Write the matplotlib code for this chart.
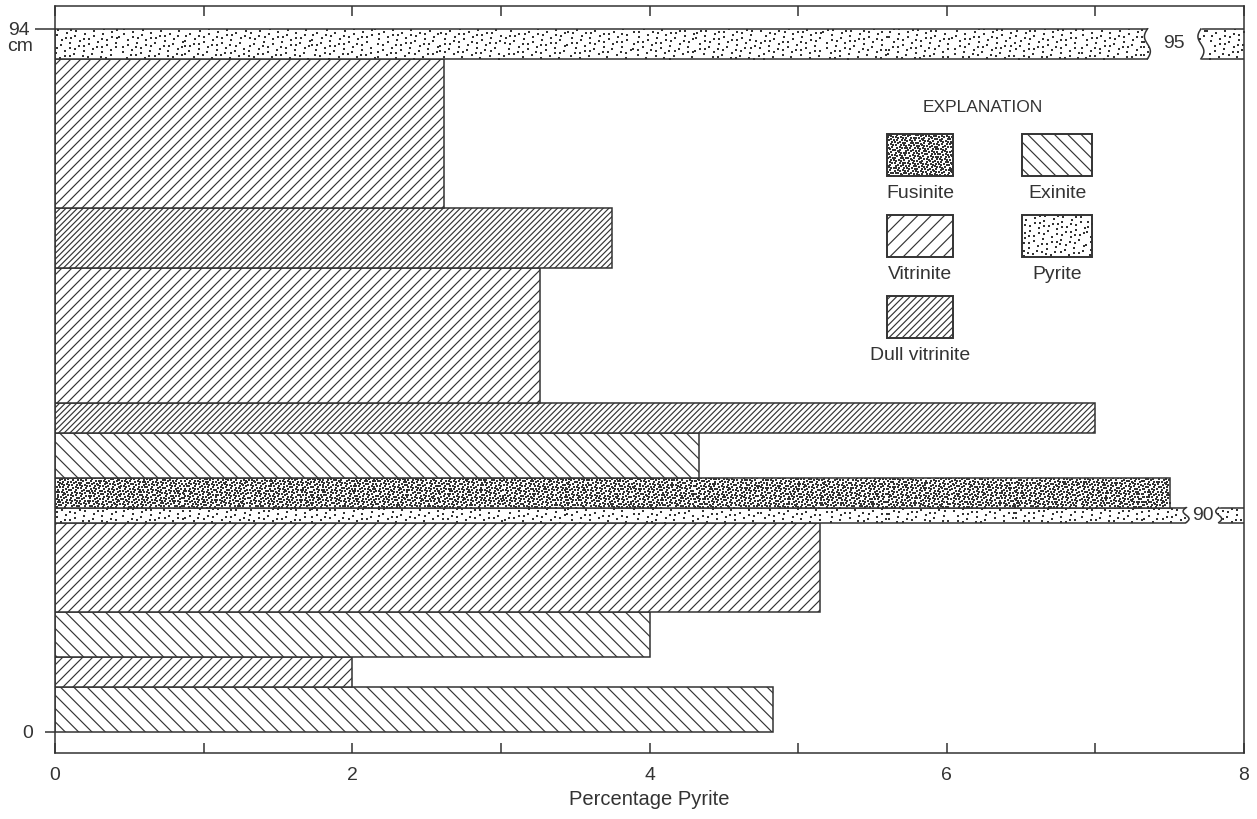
import matplotlib.pyplot as plt
import numpy as np
from matplotlib.patches import Rectangle

# Layers from the base of the section upward (cm) and pyrite content of each
layer_base = [0, 6, 10, 16, 28, 30, 34, 40, 44, 62, 70, 90]
layer_top = [6, 10, 16, 28, 30, 34, 40, 44, 62, 70, 90, 94]
maceral = ['Exinite', 'Vitrinite', 'Exinite', 'Vitrinite', 'Pyrite', 'Fusinite',
           'Exinite', 'Dull vitrinite', 'Vitrinite', 'Dull vitrinite', 'Vitrinite', 'Pyrite']
pyrite_pct = [4.83, 2.0, 4.0, 5.15, 90, 7.5, 4.33, 7.0, 3.26, 3.75, 2.62, 95]

legend_order = ['Fusinite', 'Exinite', 'Vitrinite', 'Pyrite', 'Dull vitrinite']

DPI = 120
S = 100 / DPI   # font sizes and line widths are written for 100 dpi
P = 72 / DPI    # pixels -> points
ink = '#333333'
plt.rcParams['font.family'] = ['Liberation Sans', 'DejaVu Sans']
plt.rcParams['hatch.linewidth'] = 0.7
plt.rcParams['text.color'] = ink

hatch_of = {'Exinite': '\\\\\\', 'Vitrinite': '////', 'Dull vitrinite': '///////'}
stipple_of = {'Fusinite': (0.12, 0.45), 'Pyrite': (0.028, 0.6)}  # dots per px^2, dot size

W, H = 1257, 819
fig = plt.figure(figsize=(W / DPI, H / DPI), dpi=DPI)
AXW, AXH = 1189, 747
ax = fig.add_axes([55 / W, 66 / H, AXW / W, AXH / H])

XMAX = 8
YLIM = (-2.81, 97.07)
ax.set_xlim(0, XMAX)
ax.set_ylim(*YLIM)
ax.set_autoscale_on(False)
ppx = AXW / XMAX
ppy = AXH / (YLIM[1] - YLIM[0])

thickness = np.subtract(layer_top, layer_base)
bars = ax.barh(layer_base, pyrite_pct, height=thickness, align='edge',
               color='white', edgecolor=ink, linewidth=1.1 * S, zorder=2)


def r2_tile(size, density):
    # low-discrepancy point set filling a size x size pixel tile
    n = int(size * size * density)
    g = 1.32471795724474602596
    i = np.arange(n)
    return (0.5 + i / g) % 1 * size, (0.5 + i / g ** 2) % 1 * size


def stipple(patch, x0, y0, w_px, h_px, density, dot, to_x, to_y, seed=0):
    T = 64
    tx, ty = r2_tile(T, density)
    xs, ys = [], []
    for k, ox in enumerate(np.arange(0, w_px, T)):
        for m, oy in enumerate(np.arange(0, h_px, T)):
            sh = (k * 17 + m * 29 + seed * 7) % T
            xs.append(ox + (tx + sh) % T)
            ys.append(oy + (ty + sh * 0.61) % T)
    xs = np.concatenate(xs)
    ys = np.concatenate(ys)
    keep = (xs < w_px) & (ys < h_px)
    sc = ax.scatter(x0 + to_x(xs[keep]), y0 + to_y(ys[keep]), s=dot, marker='s',
                    color=ink, linewidths=0, zorder=patch.get_zorder() + 0.5,
                    transform=patch.get_data_transform(), clip_on=True)
    sc.set_clip_path(patch)


for k, (bar, name) in enumerate(zip(bars, maceral)):
    if name in hatch_of:
        bar.set_hatch(hatch_of[name])
    else:
        dens, dot = stipple_of[name]
        w_vis = min(bar.get_width(), XMAX)
        stipple(bar, 0, bar.get_y(), w_vis * ppx, bar.get_height() * ppy,
                dens, dot, lambda p: p / ppx, lambda p: p / ppy, seed=k)

# off-scale pyrite layers: break the bar and print its value
gaps = {90: (7.61, 7.83), 95: (7.35, 7.71)}
for bar, val in zip(bars, pyrite_pct):
    if val not in gaps:
        continue
    g0, g1 = gaps[val]
    y0 = bar.get_y()
    y1 = y0 + bar.get_height()
    yy = np.linspace(y0, y1, 40)
    wig = 0.02 * np.sin(2 * np.pi * (yy - y0) / (y1 - y0))
    yf = np.linspace(y0 - 0.2, y1 + 0.2, 40)
    wf = 0.02 * np.sin(2 * np.pi * (yf - y0) / (y1 - y0))
    ax.fill_betweenx(yf, g0 + wf, g1 + wf, color='white', lw=0, zorder=4)
    ax.plot(g0 + wig, yy, color=ink, lw=1.1 * S, zorder=5)
    ax.plot(g1 + wig, yy, color=ink, lw=1.1 * S, zorder=5)
    ax.text((g0 + g1) / 2, (y0 + y1) / 2, f'{val:g}', ha='center', va='center',
            fontsize=14 * S, zorder=6)

ax.set_xticks(range(XMAX + 1))
ax.set_xticklabels(['0', '', '2', '', '4', '', '6', '', '8'])
ax.tick_params(axis='x', direction='in', length=10 * P, width=1.1 * S, top=True,
               bottom=True, colors=ink, labelsize=14 * S, pad=14 * P)
# depth axis: base and top of the section only
ax.set_yticks([0])
ax.set_yticklabels(['0'])
ax.set_yticks([94], minor=True)
ax.set_yticklabels(['94'], minor=True)
ax.tick_params(axis='y', which='major', direction='out', length=10 * P, width=1.1 * S,
               colors=ink, labelsize=14 * S, pad=12 * P)
ax.tick_params(axis='y', which='minor', direction='out', length=20 * P, width=1.1 * S,
               colors=ink, labelsize=14 * S, pad=5 * P)
ax.annotate('cm', xy=(0, 94), xycoords=('axes fraction', 'data'),
            xytext=(-35, -18), textcoords='offset pixels',
            ha='center', va='center', fontsize=14 * S)
ax.set_xlabel('Percentage Pyrite', fontsize=14.5 * S, labelpad=6 * P, color=ink)
for s in ax.spines.values():
    s.set_color(ink)
    s.set_linewidth(1.1 * S)


# explanation block, placed in figure pixels
def fx(px):
    return px / W


def fy(py):
    return 1 - py / H


ax.text(fx(983), fy(107), 'EXPLANATION', ha='center', va='center',
        fontsize=12.5 * S, transform=fig.transFigure)
legend_box = {'Fusinite': (887, 134, 66), 'Exinite': (1022, 134, 70),
              'Vitrinite': (887, 215, 66), 'Pyrite': (1022, 215, 70),
              'Dull vitrinite': (887, 296, 66)}
legend_hatch = {'Exinite': '\\\\\\', 'Vitrinite': '///', 'Dull vitrinite': '//////'}
BH = 42
for k, name in enumerate(legend_order):
    bx, by, bw = legend_box[name]
    box = Rectangle((fx(bx), fy(by + BH)), bw / W, BH / H, transform=fig.transFigure,
                    facecolor='white', edgecolor=ink, linewidth=1.4 * S,
                    hatch=legend_hatch.get(name), zorder=6)
    ax.add_artist(box)
    if name in stipple_of:
        dens, dot = stipple_of[name]
        stipple(box, fx(bx), fy(by + BH), bw, BH, dens * 1.1, dot,
                lambda p: p / W, lambda p: p / H, seed=k + 20)
    ax.text(fx(bx + bw / 2), fy(by + 60), name, ha='center', va='center',
            fontsize=14 * S, transform=fig.transFigure)

fig.savefig('out.png', dpi=DPI)
